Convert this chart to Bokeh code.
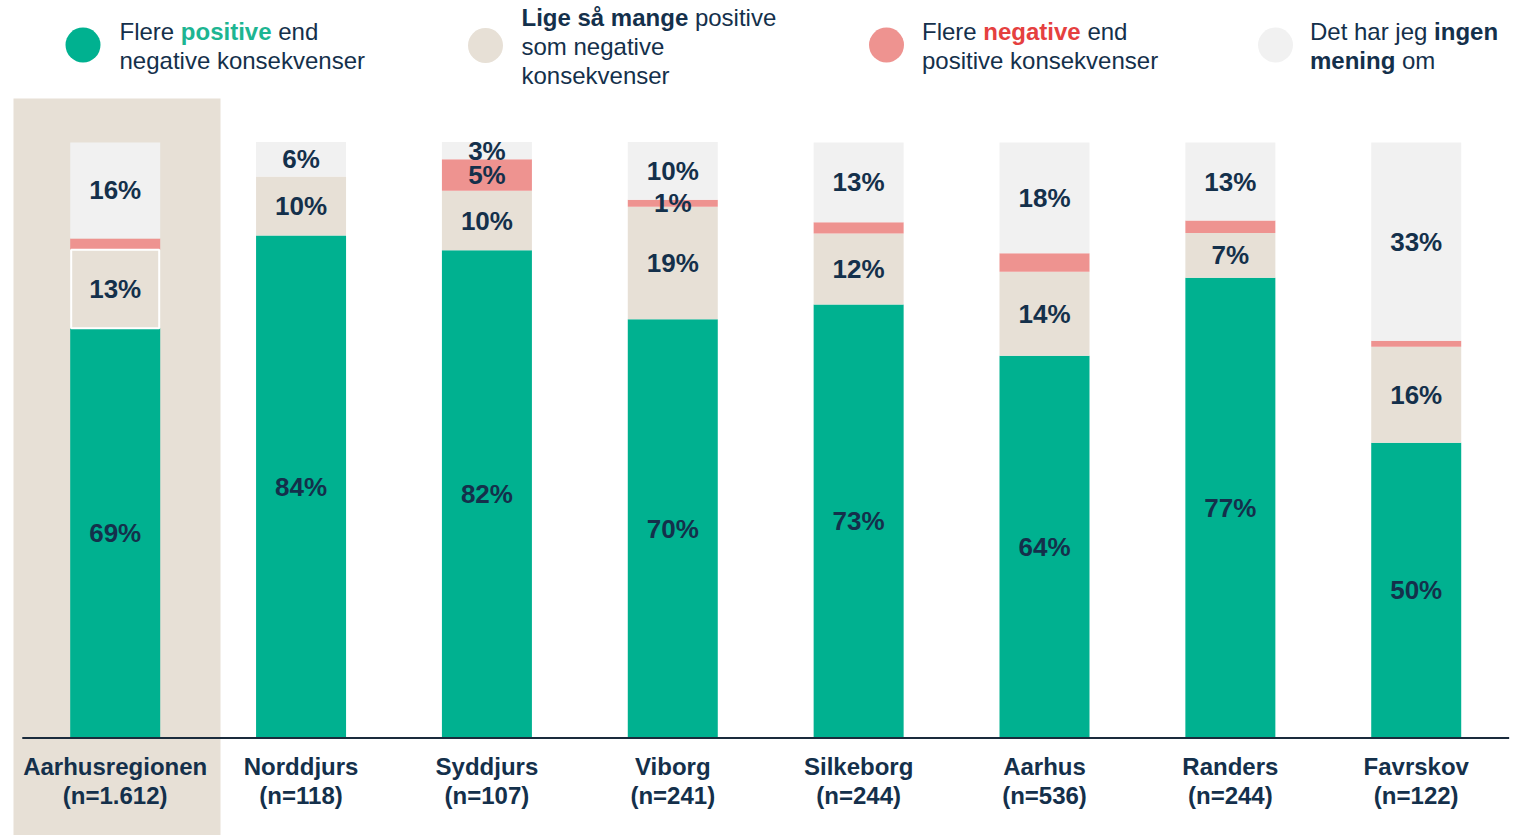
from bokeh.plotting import figure
from bokeh.models import Range1d
from bokeh.core.properties import value
from bokeh.embed import file_html
from bokeh.resources import INLINE
import numpy as np

# ---------------- data ----------------
categories = ["Aarhusregionen", "Norddjurs", "Syddjurs", "Viborg",
              "Silkeborg", "Aarhus", "Randers", "Favrskov"]
sample_sizes = ["(n=1.612)", "(n=118)", "(n=107)", "(n=241)",
                "(n=244)", "(n=536)", "(n=244)", "(n=122)"]
positive = [68.8, 84.4, 81.9, 70.3, 72.8, 64.2, 77.3, 49.6]
neutral = [13.2, 9.9, 10.0, 18.9, 11.9, 14.1, 7.5, 16.1]
negative = [1.9, 0.0, 5.3, 1.2, 1.9, 3.1, 2.1, 1.0]
no_opinion = [16.1, 5.8, 2.9, 9.7, 13.4, 18.6, 13.1, 33.3]
positive_labels = ["69%", "84%", "82%", "70%", "73%", "64%", "77%", "50%"]
neutral_labels = ["13%", "10%", "10%", "19%", "12%", "14%", "7%", "16%"]
negative_labels = ["", "", "5%", "1%", "", "", "", ""]
no_opinion_labels = ["16%", "6%", "3%", "10%", "13%", "18%", "13%", "33%"]

# ---------------- style ----------------
GREEN = "#00B190"
BEIGE = "#E7E0D6"
RED = "#EE9390"
GREY = "#F1F1F1"
TEXT = "#14304B"
GREEN_TXT = "#1DB592"
RED_TXT = "#E5403F"
FONT = value("Liberation Sans")

FIG_W, FIG_H = 1526, 835
OFF = 0
C0, STEP = 114.7, 185.86
BASE_PY, PPU = 737.5, 5.955


def X(px):
    return (px - C0) / STEP


def Y(py):
    return (BASE_PY - py) / PPU


p = figure(width=FIG_W, height=FIG_H, output_backend="svg", toolbar_location=None,
           x_range=Range1d(X(OFF), X(OFF + FIG_W)), y_range=Range1d(Y(OFF + FIG_H), Y(OFF)),
           x_axis_location=None, y_axis_location=None, min_border=0)
p.outline_line_color = None
p.grid.visible = False
p.background_fill_color = "white"
p.border_fill_color = "white"

n = len(categories)
xs = np.arange(n)

# highlight behind first category
p.quad(left=[X(13)], right=[X(220)], bottom=[Y(OFF + FIG_H)], top=[Y(98)],
       fill_color=BEIGE, line_color=None)

pos = np.array(positive)
neu = np.array(neutral)
neg = np.array(negative)
non = np.array(no_opinion)
b1 = pos
b2 = b1 + neu
b3 = b2 + neg
b4 = b3 + non
W = 90 / STEP

p.vbar(x=xs, bottom=0, top=b1, width=W, fill_color=GREEN, line_color=None)
p.vbar(x=xs, bottom=b1, top=b2, width=W, fill_color=BEIGE, line_color=None)
p.vbar(x=xs, bottom=b2, top=b3, width=W, fill_color=RED, line_color=None)
p.vbar(x=xs, bottom=b3, top=b4, width=W, fill_color=GREY, line_color=None)
# white outline on the highlighted neutral segment
p.vbar(x=xs[:1], bottom=b1[:1], top=b2[:1], width=W - 2 / STEP, fill_color=None,
       line_color="white", line_width=2)

# baseline
p.segment(x0=[-0.5], y0=[0], x1=[n - 0.5], y1=[0], line_color="#1A2B3C", line_width=2)

# value labels
lx, ly, lt = [], [], []
for bottoms, tops, labels in [(np.zeros(n), b1, positive_labels), (b1, b2, neutral_labels),
                              (b2, b3, negative_labels), (b3, b4, no_opinion_labels)]:
    for i in range(n):
        if labels[i]:
            lx.append(xs[i])
            ly.append((bottoms[i] + tops[i]) / 2)
            lt.append(labels[i])
p.text(x=lx, y=ly, text=lt, text_font=FONT, text_font_size="26px", text_font_style="bold",
       text_color=TEXT, text_align="center", text_baseline="middle")

# category labels
p.text(x=xs, y=[Y(766)] * n, text=categories, text_font=FONT, text_font_size="24px",
       text_font_style="bold", text_color=TEXT, text_align="center", text_baseline="middle")
p.text(x=xs, y=[Y(795)] * n, text=sample_sizes, text_font=FONT, text_font_size="24px",
       text_font_style="bold", text_color=TEXT, text_align="center", text_baseline="middle")

# ---------------- legend ----------------
REG = {" ": 278, "F": 611, "L": 556, "D": 722, "a": 556, "å": 556, "d": 556, "e": 556, "g": 556,
       "h": 556, "i": 222, "j": 222, "k": 500, "l": 222, "m": 833, "n": 556, "o": 556, "p": 556,
       "r": 333, "s": 500, "t": 278, "v": 500}
BLD = {" ": 278, "F": 611, "L": 611, "D": 722, "a": 556, "å": 556, "d": 611, "e": 556, "g": 611,
       "h": 611, "i": 278, "j": 278, "k": 556, "l": 278, "m": 889, "n": 611, "o": 611, "p": 611,
       "r": 389, "s": 556, "t": 333, "v": 556}
LS = 24


def tw(s, bold):
    t = BLD if bold else REG
    return sum(t.get(c, 556) for c in s) / 1000 * LS


def rich_line(x0, mid_py, runs):
    x = x0
    for s, bold, color in runs:
        lead = len(s) - len(s.lstrip(" "))
        x += tw(" " * lead, bold)
        core = s.strip(" ")
        p.text(x=[X(x)], y=[Y(mid_py)], text=[core], text_font=FONT, text_font_size=f"{LS}px",
               text_font_style="bold" if bold else "normal", text_color=color,
               text_align="left", text_baseline="middle")
        x += tw(s.lstrip(" "), bold)


legend_colors = [GREEN, BEIGE, RED, GREY]
legend_centers = [(82.5, 44.5), (485, 45), (886, 44.5), (1275, 44.5)]
for c, (cx, cy) in zip(legend_colors, legend_centers):
    p.scatter(x=[X(cx)], y=[Y(cy)], size=35, marker="circle", fill_color=c, line_color=None)

rich_line(119, 31, [("Flere ", False, TEXT), ("positive", True, GREEN_TXT), (" end", False, TEXT)])
rich_line(119, 60, [("negative konsekvenser", False, TEXT)])

rich_line(521, 17, [("Lige så mange", True, TEXT), (" positive", False, TEXT)])
rich_line(521, 46, [("som negative", False, TEXT)])
rich_line(521, 75, [("konsekvenser", False, TEXT)])

rich_line(921.5, 31, [("Flere ", False, TEXT), ("negative", True, RED_TXT), (" end", False, TEXT)])
rich_line(921.5, 60, [("positive konsekvenser", False, TEXT)])

rich_line(1309.5, 31, [("Det har jeg ", False, TEXT), ("ingen", True, TEXT)])
rich_line(1309.5, 60, [("mening", True, TEXT), (" om", False, TEXT)])

open("out.html", "w").write(file_html(p, INLINE))
